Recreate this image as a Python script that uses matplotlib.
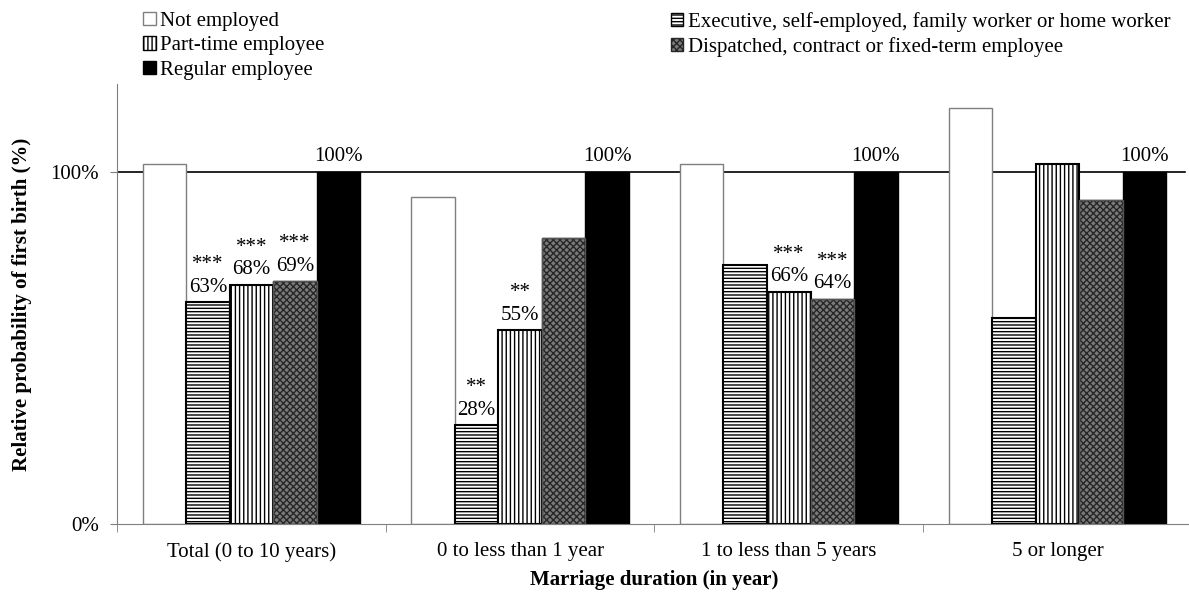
import numpy as np
import matplotlib.pyplot as plt
from matplotlib.patches import Patch

plt.rcParams['font.family'] = ['Liberation Serif', 'DejaVu Serif']
plt.rcParams['hatch.linewidth'] = 1.0

categories = ["Total (0 to 10 years)", "0 to less than 1 year",
              "1 to less than 5 years", "5 or longer"]
not_employed = [102.3, 93.0, 102.3, 118.2]
executive = [63, 28, 73.7, 58.6]
part_time = [68, 55, 66, 102.3]
dispatched = [69, 81.3, 64, 92.0]
regular = [100, 100, 100, 100]

# significance markers for the labelled bars (None = no label)
exec_sig = ["***", "**", None, None]
pt_sig = ["***", "**", "***", None]
disp_sig = ["***", None, "***", None]

fs = 15

fig = plt.figure(figsize=(11.89, 5.94), dpi=100)
ax = fig.add_axes([0.0984, 0.1178, 0.904, 0.7408])

x = np.arange(len(categories))
w = 0.162

styles = [
    dict(label="Not employed", facecolor="white", edgecolor="#7f7f7f", hatch=None, lw=1.0),
    dict(label="Executive, self-employed, family worker or home worker",
         facecolor="white", edgecolor="black", hatch="-----", lw=1.5),
    dict(label="Part-time employee", facecolor="white", edgecolor="black", hatch="||||", lw=1.5),
    dict(label="Dispatched, contract or fixed-term employee",
         facecolor="#7a7a7a", edgecolor="#262626", hatch="xxxxx", lw=1.0),
    dict(label="Regular employee", facecolor="black", edgecolor="black", hatch=None, lw=1.0),
]
series = [not_employed, executive, part_time, dispatched, regular]

handles = []
for k, (vals, st) in enumerate(zip(series, styles)):
    pos = x + (k - 2) * w
    ax.bar(pos, vals, w, color=st["facecolor"], edgecolor=st["edgecolor"],
           hatch=st["hatch"], linewidth=st["lw"], zorder=2)
    # outline on top so the hatch does not cover the border
    if k == 3:
        ax.bar(pos, vals, w, fill=False, edgecolor="#555555", linewidth=1.0, zorder=3)
    handles.append(Patch(facecolor=st["facecolor"], edgecolor=st["edgecolor"],
                         hatch=st["hatch"], linewidth=1.0, label=st["label"]))

# value labels
def put_labels(vals, sigs, k):
    for i, (v, s) in enumerate(zip(vals, sigs)):
        if s is None:
            continue
        ax.annotate(f"{s}\n{v:.0f}%", (x[i] + (k - 2) * w, v), xytext=(0, 4),
                    textcoords="offset points", ha="center", va="bottom",
                    fontsize=fs, linespacing=1.25)

put_labels(executive, exec_sig, 1)
put_labels(part_time, pt_sig, 2)
put_labels(dispatched, disp_sig, 3)
for i, v in enumerate(regular):
    ax.annotate(f"{v}%", (x[i] + 2 * w, v), xytext=(0, 4), textcoords="offset points",
                ha="center", va="bottom", fontsize=fs)

ax.axhline(100, xmax=0.994, color="black", linewidth=1.2, zorder=1)

ax.set_xlim(-0.5, 3.5)
ax.set_ylim(0, 125)
ax.set_yticks([0, 100])
ax.set_yticklabels(["0%", "100%"], fontsize=fs)
ax.tick_params(axis="y", length=5, color="#7f7f7f", pad=8)
ax.set_xticks(x)
ax.set_xticklabels(categories, fontsize=fs)
ax.set_xticks(np.arange(-0.5, 4.0, 1.0), minor=True)
ax.tick_params(axis="x", which="major", length=0, pad=13)
ax.tick_params(axis="x", which="minor", length=6, color="#7f7f7f")

for side in ["top", "right"]:
    ax.spines[side].set_visible(False)
for side in ["left", "bottom"]:
    ax.spines[side].set_color("#7f7f7f")

ax.set_xlabel("Marriage duration (in year)", fontsize=fs, fontweight="bold", labelpad=6)
ax.set_ylabel("Relative probability of first birth (%)", fontsize=fs, fontweight="bold",
              labelpad=13)

leg_kw = dict(frameon=False, fontsize=fs, handlelength=0.6, handleheight=0.6,
              handletextpad=0.2, labelspacing=0.26, borderaxespad=0)
leg1 = fig.legend(handles=[handles[0], handles[2], handles[4]], loc="upper left",
                  bbox_to_anchor=(0.1134, 0.994), **leg_kw)
leg2 = fig.legend(handles=[handles[1], handles[3]], loc="upper left",
                  bbox_to_anchor=(0.5573, 0.994), **leg_kw)

fig.savefig("out.png", dpi=100)
